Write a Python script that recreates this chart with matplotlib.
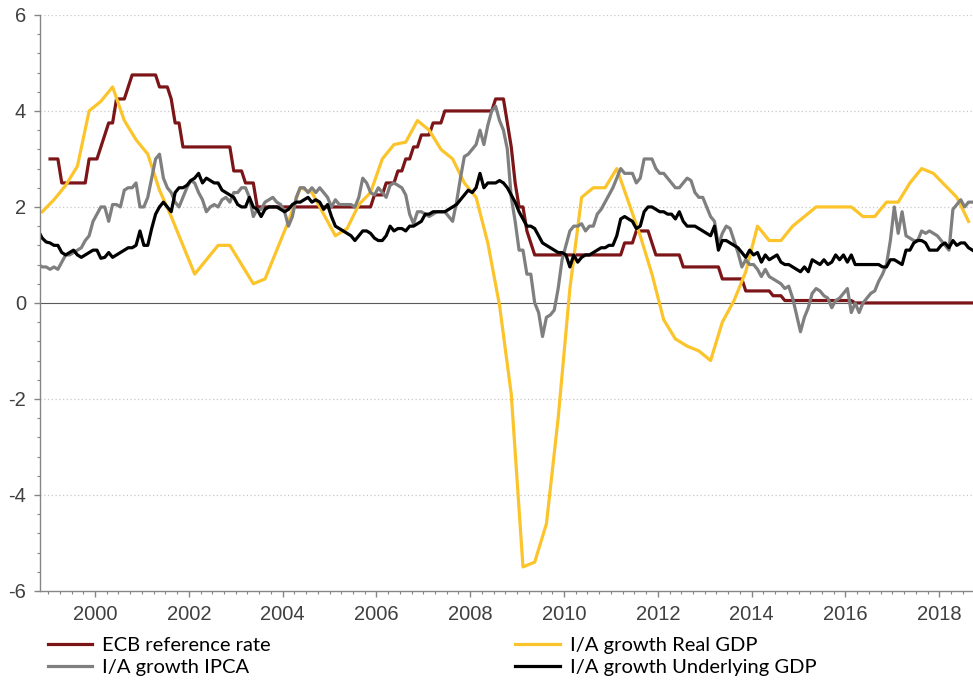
import matplotlib.pyplot as plt
import numpy as np
from matplotlib.ticker import MultipleLocator

plt.rcParams['axes.unicode_minus'] = False

# Monthly year-on-year rates, Oct 1998 .. Sep 2018
ipca = [
    0.8, 0.75, 0.75,
    0.7, 0.75, 0.7, 0.85, 1.0, 1.0, 1.05, 1.1, 1.15, 1.3, 1.4, 1.7,
    1.85, 2.0, 2.0, 1.7, 2.05, 2.05, 2.0, 2.35, 2.4, 2.4, 2.5, 2.0,
    2.0, 2.2, 2.6, 3.0, 3.1, 2.6, 2.4, 2.3, 2.1, 2.0, 2.2, 2.4,
    2.55, 2.5, 2.3, 2.15, 1.9, 2.0, 2.05, 2.0, 2.15, 2.2, 2.1, 2.3,
    2.3, 2.4, 2.4, 2.2, 1.8, 1.95, 1.95, 2.1, 2.15, 2.2, 2.1, 2.05,
    1.9, 1.6, 1.8, 2.2, 2.4, 2.4, 2.3, 2.4, 2.3, 2.4, 2.3, 2.2,
    2.0, 2.15, 2.05, 2.05, 2.05, 2.05, 2.0, 2.2, 2.6, 2.5, 2.3, 2.25,
    2.4, 2.3, 2.2, 2.45, 2.5, 2.45, 2.4, 2.25, 1.85, 1.65, 1.9, 1.9,
    1.85, 1.8, 1.85, 1.9, 1.9, 1.9, 1.8, 1.7, 2.1, 2.6, 3.05, 3.1,
    3.2, 3.3, 3.6, 3.3, 3.7, 4.0, 4.1, 3.8, 3.6, 3.2, 2.2, 1.7,
    1.1, 1.1, 0.6, 0.6, 0.0, -0.2, -0.7, -0.3, -0.25, -0.15, 0.3, 0.9,
    1.2, 1.5, 1.6, 1.6, 1.65, 1.5, 1.6, 1.6, 1.85, 1.95, 2.1, 2.25,
    2.4, 2.6, 2.8, 2.7, 2.7, 2.7, 2.5, 2.6, 3.0, 3.0, 3.0, 2.8,
    2.7, 2.7, 2.6, 2.5, 2.4, 2.4, 2.5, 2.6, 2.55, 2.3, 2.2, 2.2,
    2.0, 1.8, 1.7, 1.2, 1.45, 1.6, 1.55, 1.3, 1.05, 0.75, 0.9, 0.8,
    0.8, 0.7, 0.55, 0.7, 0.55, 0.5, 0.45, 0.4, 0.3, 0.35, 0.1, -0.25,
    -0.6, -0.3, -0.1, 0.2, 0.3, 0.25, 0.15, 0.1, -0.1, 0.05, 0.1, 0.2,
    0.3, -0.2, 0.0, -0.2, 0.0, 0.1, 0.2, 0.25, 0.45, 0.6, 0.8, 1.3,
    2.0, 1.45, 1.9, 1.4, 1.35, 1.3, 1.3, 1.5, 1.45, 1.5, 1.45, 1.4,
    1.3, 1.2, 1.1, 1.95, 2.05, 2.15, 2.0, 2.1, 2.1,
]
underlying = [
    1.5, 1.35, 1.27,
    1.25, 1.2, 1.2, 1.05, 1.0, 1.05, 1.1, 1.0, 0.95, 1.0, 1.05, 1.1,
    1.1, 0.93, 0.95, 1.05, 0.95, 1.0, 1.05, 1.1, 1.15, 1.15, 1.2, 1.5,
    1.2, 1.2, 1.55, 1.85, 2.0, 2.1, 2.0, 1.9, 2.3, 2.4, 2.4, 2.45,
    2.55, 2.6, 2.7, 2.5, 2.6, 2.55, 2.5, 2.5, 2.35, 2.3, 2.25, 2.2,
    2.05, 2.0, 2.0, 2.2, 2.0, 1.95, 1.8, 1.95, 2.0, 2.0, 2.0, 1.95,
    1.9, 1.95, 2.05, 2.1, 2.1, 2.15, 2.2, 2.1, 2.15, 2.1, 1.95, 2.05,
    1.8, 1.6, 1.55, 1.5, 1.45, 1.4, 1.3, 1.4, 1.5, 1.5, 1.45, 1.35,
    1.3, 1.3, 1.4, 1.6, 1.5, 1.55, 1.55, 1.5, 1.6, 1.6, 1.65, 1.7,
    1.85, 1.85, 1.9, 1.9, 1.9, 1.9, 1.95, 2.0, 2.05, 2.15, 2.25, 2.35,
    2.3, 2.4, 2.7, 2.4, 2.5, 2.5, 2.5, 2.55, 2.5, 2.4, 2.25, 2.1,
    1.9, 1.75, 1.6, 1.6, 1.55, 1.4, 1.25, 1.2, 1.15, 1.1, 1.05, 1.05,
    1.0, 0.75, 1.0, 0.85, 0.95, 1.0, 1.0, 1.05, 1.1, 1.15, 1.15, 1.2,
    1.2, 1.4, 1.75, 1.8, 1.75, 1.7, 1.55, 1.6, 1.9, 2.0, 2.0, 1.95,
    1.9, 1.9, 1.85, 1.85, 1.75, 1.9, 1.7, 1.6, 1.6, 1.6, 1.55, 1.5,
    1.45, 1.4, 1.6, 1.1, 1.3, 1.3, 1.25, 1.2, 1.15, 1.05, 0.95, 1.1,
    1.0, 1.05, 0.85, 1.0, 0.9, 0.95, 1.0, 0.85, 0.8, 0.8, 0.75, 0.7,
    0.65, 0.75, 0.65, 0.9, 0.85, 0.8, 0.9, 0.8, 0.85, 1.0, 0.9, 1.0,
    0.85, 1.0, 0.8, 0.8, 0.8, 0.8, 0.8, 0.8, 0.8, 0.75, 0.75, 0.9,
    0.9, 0.85, 0.8, 1.1, 1.1, 1.25, 1.3, 1.3, 1.25, 1.1, 1.1, 1.1,
    1.2, 1.25, 1.15, 1.3, 1.2, 1.25, 1.25, 1.15, 1.1,
]

# Quarterly real GDP growth, Q4 1998 .. Q3 2018
real_gdp = [
    1.9,
    2.15, 2.45, 2.85, 4.0,
    4.2, 4.5, 3.8, 3.4,
    3.1, 2.35, 1.8, 1.2,
    0.6, 0.9, 1.2, 1.2,
    0.8, 0.4, 0.5, 1.1,
    1.7, 2.4, 2.3, 1.85,
    1.4, 1.55, 2.05, 2.3,
    3.0, 3.3, 3.35, 3.8,
    3.6, 3.2, 3.0, 2.5,
    2.2, 1.25, -0.05, -1.9,
    -5.5, -5.4, -4.6, -2.4,
    0.3, 2.2, 2.4, 2.4,
    2.8, 2.1, 1.4, 0.6,
    -0.35, -0.75, -0.9, -1.0,
    -1.2, -0.4, 0.05, 0.65,
    1.6, 1.3, 1.3, 1.6,
    1.8, 2.0, 2.0, 2.0,
    2.0, 1.8, 1.8, 2.1,
    2.1, 2.5, 2.8, 2.7,
    2.45, 2.2, 1.7,
]

# ECB main refinancing rate: month of each change and the new level
ecb_changes = [
    (1999, 1), (1999, 4), (1999, 11), (2000, 2), (2000, 3), (2000, 4),
    (2000, 6), (2000, 9), (2000, 10), (2001, 5), (2001, 8), (2001, 9),
    (2001, 11), (2002, 12), (2003, 3), (2003, 6), (2005, 12), (2006, 3),
    (2006, 6), (2006, 8), (2006, 10), (2006, 12), (2007, 3), (2007, 6),
    (2008, 7), (2008, 10), (2008, 11), (2008, 12), (2009, 1), (2009, 3),
    (2009, 4), (2009, 5), (2011, 4), (2011, 7), (2011, 11), (2011, 12),
    (2012, 7), (2013, 5), (2013, 11), (2014, 6), (2014, 9), (2016, 3),
]
ecb_levels = [
    3.0, 2.5, 3.0, 3.25, 3.5, 3.75,
    4.25, 4.5, 4.75, 4.5, 4.25, 3.75,
    3.25, 2.75, 2.5, 2.0, 2.25, 2.5,
    2.75, 3.0, 3.25, 3.5, 3.75, 4.0,
    4.25, 3.75, 3.25, 2.5, 2.0, 1.5,
    1.25, 1.0, 1.25, 1.5, 1.25, 1.0,
    0.75, 0.5, 0.25, 0.15, 0.05, 0.0,
]


def month_pos(year, month, n):
    # decimal-year position of the middle of each month
    k = np.arange(n) + (month - 1)
    return year + (k + 0.5) / 12


t_month = month_pos(1998, 10, len(ipca))
t_quarter = 1998.75 + (np.arange(len(real_gdp)) * 3 + 1.5) / 12

# ECB rate in force each month
t_ecb = month_pos(1999, 1, 237)
chg = np.array([y + (m - 1) / 12 for y, m in ecb_changes])
ecb = np.array(ecb_levels)[np.searchsorted(chg, t_ecb, side='right') - 1]

fig = plt.figure(figsize=(9.73, 6.8), dpi=100)
ax = fig.add_axes([0.0411, 0.131, 0.9589, 0.847])

lw = 2.3
l_ecb, = ax.plot(t_ecb, ecb, color='#7b1518', lw=lw, label='ECB reference rate')
l_gdp, = ax.plot(t_quarter, real_gdp, color='#fcc42b', lw=lw, label='I/A growth Real GDP')
l_ipca, = ax.plot(t_month, ipca, color='#7f7f7f', lw=lw, label='I/A growth IPCA')
l_und, = ax.plot(t_month, underlying, color='#000000', lw=lw, label='I/A growth Underlying GDP')

ax.axhline(0, color='#5a5a5a', lw=0.8, zorder=1)

ax.set_xlim(1998.827, 2018.72)
ax.set_ylim(-6, 6)
ax.xaxis.set_major_locator(MultipleLocator(2))
ax.xaxis.set_minor_locator(MultipleLocator(0.25))
ax.yaxis.set_major_locator(MultipleLocator(2))
ax.yaxis.set_minor_locator(MultipleLocator(0.4))

for y in [-4, -2, 2, 4, 6]:
    ax.axhline(y, color='#c8c8c8', lw=0.9, ls=(0, (1, 2)), zorder=0)

for side in ['top', 'right']:
    ax.spines[side].set_visible(False)
for side in ['left', 'bottom']:
    ax.spines[side].set_color('#868686')
    ax.spines[side].set_linewidth(1.0)

ax.tick_params(which='major', direction='out', length=4, width=1,
               color='#868686', labelsize=14.5, labelcolor='#404040', pad=6)
ax.tick_params(which='minor', direction='out', length=2, width=0.8, color='#868686')
for lab in ax.get_xticklabels() + ax.get_yticklabels():
    lab.set_family('Liberation Sans')

fig.legend([l_ecb, l_ipca, l_gdp, l_und],
           [l.get_label() for l in (l_ecb, l_ipca, l_gdp, l_und)],
           ncol=2, loc='upper left', bbox_to_anchor=(0.049, 0.063),
           frameon=False, prop={'family': 'Lato', 'size': 14.5},
           handlelength=2.2, handletextpad=0.5, columnspacing=12.15,
           labelspacing=0.25, borderaxespad=0, borderpad=0)

fig.savefig('out.png', dpi=100)
